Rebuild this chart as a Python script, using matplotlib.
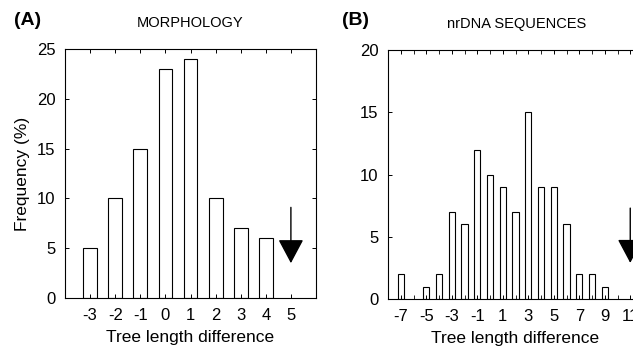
import matplotlib
matplotlib.use("Agg")
import matplotlib.pyplot as plt

plt.rcParams['font.family'] = ['Liberation Sans', 'DejaVu Sans']
plt.rcParams['axes.unicode_minus'] = False

# panel A, morphology
morph_diff = [-3, -2, -1, 0, 1, 2, 3, 4]
morph_freq = [5, 10, 15, 23, 24, 10, 7, 6]
morph_ticks = [-3, -2, -1, 0, 1, 2, 3, 4, 5]
morph_obs = 5

# panel B, nrDNA
dna_diff = [-7, -5, -4, -3, -2, -1, 0, 1, 2, 3, 4, 5, 6, 7, 8, 9]
dna_freq = [2, 1, 2, 7, 6, 12, 10, 9, 7, 15, 9, 9, 6, 2, 2, 1]
dna_ticks = [-7, -5, -3, -1, 1, 3, 5, 7, 9, 11]
dna_obs = 11

fig = plt.figure(figsize=(6.33, 3.48), dpi=100)
axA = fig.add_axes([0.1027, 0.1437, 0.3965, 0.7153])
axB = fig.add_axes([0.613, 0.1408, 0.4028, 0.7155])

arrow_style = dict(arrowstyle='-|>,head_length=0.75,head_width=0.4',
                   mutation_scale=20, color='black', lw=1.0,
                   shrinkA=0, shrinkB=0)

def style(ax):
    for s in ax.spines.values():
        s.set_linewidth(0.8)
    ax.tick_params(direction='in', top=True, right=True, length=3, width=0.7,
                   labelsize=12, pad=7)
    ax.tick_params(which='minor', direction='in', top=True, length=3, width=0.6)

# A
axA.bar(morph_diff, morph_freq, width=0.55, color='white', edgecolor='black', linewidth=0.8)
axA.set_xlim(-4, 6)
axA.set_ylim(0, 25)
axA.set_xticks(morph_ticks)
axA.set_yticks([0, 5, 10, 15, 20, 25])
axA.set_xticks(range(-4, 7), minor=True)
style(axA)
axA.set_ylabel('Frequency (%)', fontsize=12.5, labelpad=5)
axA.set_xlabel('Tree length difference', fontsize=12.5, labelpad=5)
axA.set_title('MORPHOLOGY', fontsize=10.5, pad=16)
axA.annotate('', xy=(morph_obs, 3.5), xytext=(morph_obs, 9.1), arrowprops=arrow_style)
fig.text(0.022, 0.928, '(A)', fontsize=14, fontweight='bold')

# B
axB.bar(dna_diff, dna_freq, width=0.5, color='white', edgecolor='black', linewidth=0.8)
axB.set_xlim(-8, 12)
axB.set_ylim(0, 20)
axB.set_xticks(dna_ticks)
axB.set_xticks(range(-8, 13), minor=True)
axB.set_yticks([0, 5, 10, 15, 20])
style(axB)
axB.set_xlabel('Tree length difference', fontsize=12.5, labelpad=5)
axB.set_title('nrDNA SEQUENCES', fontsize=10.5, pad=16, x=0.505)
axB.annotate('', xy=(dna_obs, 2.9), xytext=(dna_obs, 7.3), arrowprops=arrow_style)
fig.text(0.54, 0.928, '(B)', fontsize=14, fontweight='bold')

fig.savefig('out.png', dpi=100)
